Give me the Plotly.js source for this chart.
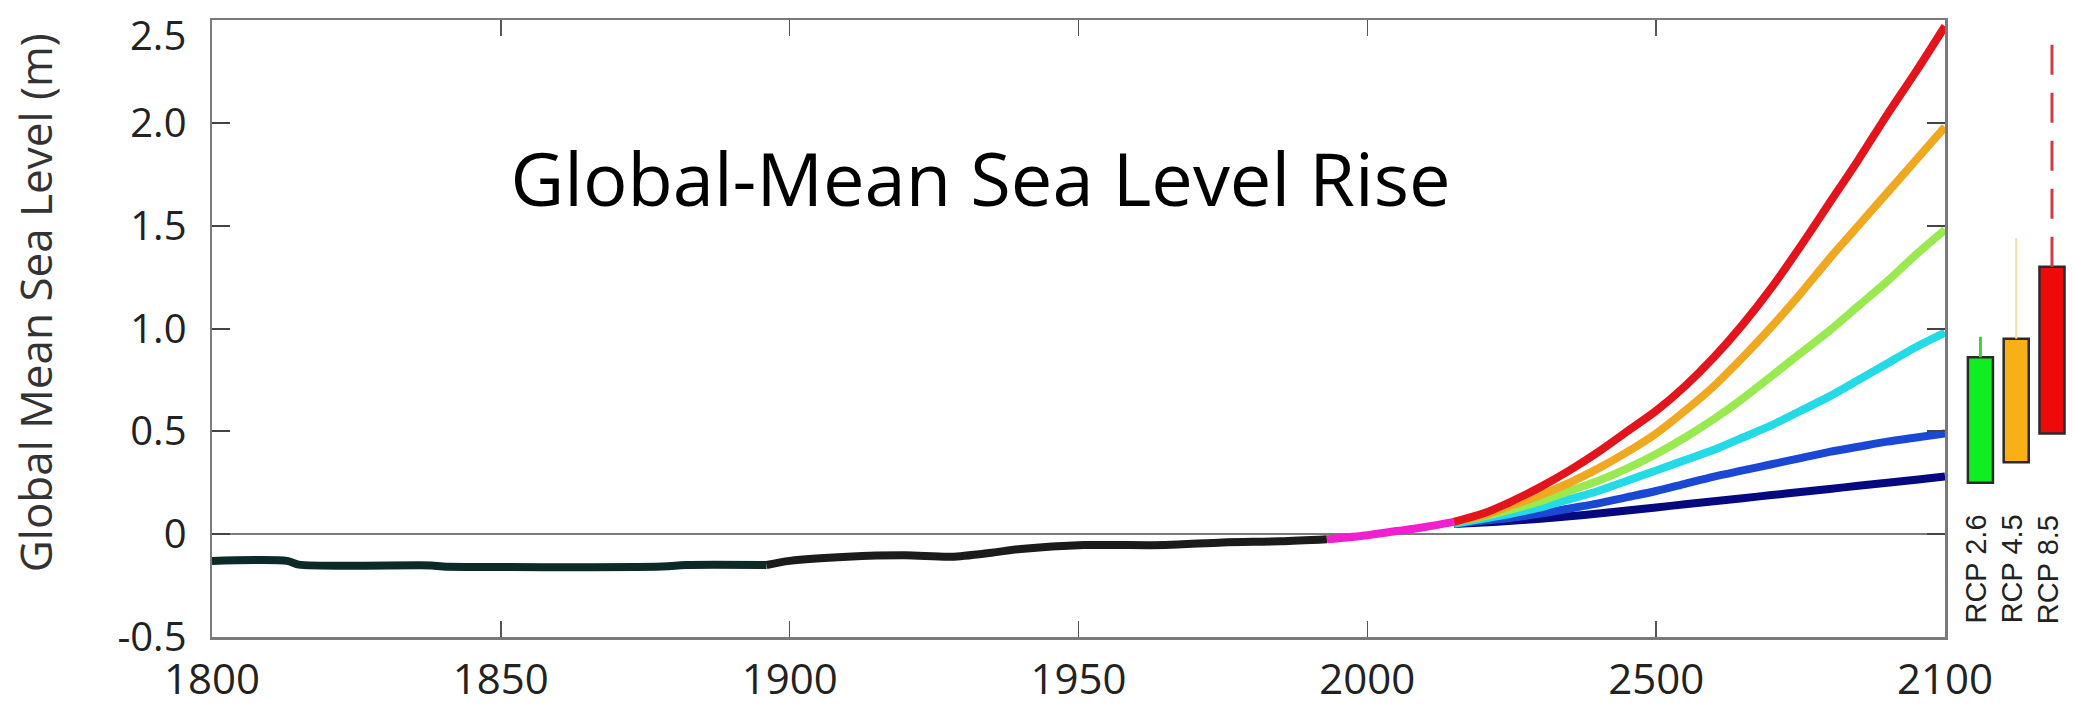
<!DOCTYPE html>
<html>
<head>
<meta charset="utf-8">
<script src="https://cdn.plot.ly/plotly-3.0.1.min.js"></script>
<style>html,body{margin:0;padding:0;background:#fff;}#chart{width:2073px;height:707px;}</style>
</head>
<body>
<div id="chart"></div>
<script>
// ---- data ----
const histEarlyYears = [1800, 1813, 1815, 1838, 1840, 1878, 1882, 1896];
const histEarlyLevel = [-0.13, -0.13, -0.148, -0.152, -0.157, -0.157, -0.15, -0.15];
const histLateYears = [1896, 1900, 1910, 1920, 1928, 1935, 1940, 1951, 1965, 1975, 1985, 1993];
const histLateLevel = [-0.15, -0.13, -0.11, -0.103, -0.11, -0.09, -0.072, -0.053, -0.053, -0.04, -0.035, -0.025];
const satYears = [1993, 2000, 2005, 2010, 2015];
const satLevel = [-0.025, -0.005, 0.015, 0.035, 0.06];

const projYears = [2015, 2020, 2025, 2030, 2035, 2040, 2045, 2050, 2055, 2060, 2065, 2070, 2075, 2080, 2085, 2090, 2095, 2100];
const projNavy   = [0.05, 0.057, 0.065, 0.075, 0.087, 0.10, 0.115, 0.13, 0.145, 0.16, 0.175, 0.19, 0.205, 0.22, 0.235, 0.25, 0.265, 0.28];
const projBlue   = [0.05, 0.065, 0.08, 0.10, 0.125, 0.15, 0.18, 0.21, 0.245, 0.28, 0.31, 0.34, 0.37, 0.40, 0.425, 0.45, 0.47, 0.49];
const projCyan   = [0.05, 0.075, 0.10, 0.13, 0.17, 0.21, 0.26, 0.31, 0.36, 0.41, 0.47, 0.53, 0.60, 0.67, 0.75, 0.83, 0.91, 0.98];
const projGreen  = [0.06, 0.085, 0.12, 0.16, 0.21, 0.26, 0.32, 0.39, 0.47, 0.56, 0.66, 0.77, 0.88, 0.99, 1.11, 1.23, 1.36, 1.48];
const projOrange = [0.06, 0.09, 0.14, 0.19, 0.25, 0.32, 0.40, 0.49, 0.60, 0.72, 0.86, 1.01, 1.17, 1.34, 1.50, 1.66, 1.82, 1.98];
const projRed    = [0.06, 0.10, 0.16, 0.23, 0.31, 0.40, 0.50, 0.60, 0.72, 0.86, 1.02, 1.20, 1.40, 1.61, 1.82, 2.04, 2.25, 2.47];

const rcpLabels = ["RCP 2.6", "RCP 4.5", "RCP 8.5"];
const rcpPos    = [1, 2, 3];
const rcpLow    = [0.25, 0.35, 0.49];
const rcpHigh   = [0.86, 0.95, 1.30];
const rcpTop    = [0.96, 1.44, 2.39];

const xTickVals = [1800, 1850, 1900, 1950, 2000, 2050, 2100];
const xTickText = ["1800", "1850", "1900", "1950", "2000", "2500", "2100"];
const yTickVals = [-0.5, 0, 0.5, 1.0, 1.5, 2.0, 2.5];
const yTickText = ["-0.5", "0", "0.5", "1.0", "1.5", "2.0", "2.5"];

const yAxisTitle = "Global Mean Sea Level (m)";
const chartTitle = "Global-Mean Sea Level Rise";

// ---- traces ----
const LW = 8;
function line(x, y, color, w) {
  return {x: x, y: y, type: 'scatter', mode: 'lines',
          line: {color: color, width: w || LW, shape: 'spline', smoothing: 0.8},
          xaxis: 'x', yaxis: 'y', hoverinfo: 'skip'};
}
const traces = [
  line(histEarlyYears, histEarlyLevel, '#0c2a26'),
  line(histLateYears, histLateLevel, '#1b1b1b'),
  line(projYears, projNavy, '#05087e'),
  line(projYears, projBlue, '#1a48d4'),
  line(projYears, projCyan, '#22dbe6'),
  line(projYears, projGreen, '#98ea50'),
  line(projYears, projOrange, '#f0a820'),
  line(projYears, projRed, '#e3141c'),
  line(satYears, satLevel, '#f21fd0')
];

const whiskerColors = ['#3fcf3f', '#f4dcae', '#d23a4a'];
const whiskerWidths = [3, 2, 3];
const whiskerDash = ['solid', 'solid', '30px,18px'];
for (let i = 0; i < rcpPos.length; i++) {
  traces.push({x: [rcpPos[i], rcpPos[i]], y: [rcpHigh[i], rcpTop[i]], type: 'scatter', mode: 'lines',
    line: {color: whiskerColors[i], width: whiskerWidths[i], dash: whiskerDash[i]},
    xaxis: 'x2', yaxis: 'y2', hoverinfo: 'skip'});
}
traces.push({
  x: rcpPos, y: rcpHigh.map((h, i) => h - rcpLow[i]), base: rcpLow, type: 'bar', width: 0.7,
  marker: {color: ['#10ee22', '#f8b014', '#ee0a0a'], line: {color: '#2a2a2a', width: 2.5}},
  xaxis: 'x2', yaxis: 'y2', hoverinfo: 'skip'
});

const FONT = 'Open Sans, Liberation Sans, sans-serif';
const TICKFONT = {family: FONT, size: 40, color: '#222'};
const topIdx = yTickVals.length - 1;
// the top tick label sits a little lower than its tick (as in the reference), so it is drawn as an annotation
const yTickTextShown = yTickText.map((t, i) => i === topIdx ? '' : t);

const annotations = rcpLabels.map((t, i) => ({
  text: t, x: rcpPos[i], y: -0.17, xref: 'x2', yref: 'y2', textangle: -90,
  xanchor: 'center', yanchor: 'middle', showarrow: false, xshift: -4,
  font: {family: 'Liberation Sans, Arial, sans-serif', size: 29, color: '#222'}
}));
annotations.push({
  text: yAxisTitle, xref: 'paper', yref: 'paper', x: -0.0951, y: 0.541,
  xanchor: 'center', yanchor: 'middle', textangle: -90, showarrow: false,
  font: {family: FONT, size: 44, color: '#333'}
});
annotations.push({
  text: yTickText[topIdx], xref: 'paper', yref: 'y', x: 0, y: yTickVals[topIdx],
  xanchor: 'right', yanchor: 'middle', xshift: -24, yshift: -14, showarrow: false,
  font: TICKFONT
});

const layout = {
  width: 2073, height: 707,
  margin: {l: 212, r: 0, t: 20, b: 70},
  paper_bgcolor: '#fff', plot_bgcolor: '#fff',
  showlegend: false, hovermode: false,
  title: {text: chartTitle, x: 0.473, xanchor: 'center', y: 0.745, yanchor: 'middle',
          font: {family: FONT, size: 74, color: '#000'}},
  xaxis: {domain: [0, 0.93122], range: [1800, 2100], tickvals: xTickVals, ticktext: xTickText,
          showgrid: false, zeroline: false, showline: true, linecolor: '#7a7a7a', linewidth: 2.5,
          mirror: 'ticks', ticks: 'inside', ticklen: 16, tickwidth: 1.5, tickcolor: '#555',
          ticklabelstandoff: 4, ticklabeloverflow: 'allow',
          tickfont: {family: FONT, size: 42, color: '#222'}},
  yaxis: {range: [-0.5, 2.5], tickvals: yTickVals, ticktext: yTickTextShown,
          showgrid: false, zeroline: true, zerolinecolor: '#7a7a7a', zerolinewidth: 2,
          showline: true, linecolor: '#7a7a7a', linewidth: 2.5,
          mirror: 'ticks', ticks: 'inside', ticklen: 18, tickwidth: 2, tickcolor: '#444',
          ticklabelstandoff: 15, ticklabeloverflow: 'allow',
          tickfont: TICKFONT},
  xaxis2: {domain: [0.936, 1], range: [0.259, 3.587], visible: false, anchor: 'y2'},
  yaxis2: {range: [-0.5, 2.5], visible: false, anchor: 'x2'},
  annotations: annotations
};

Plotly.newPlot('chart', traces, layout, {displayModeBar: false, staticPlot: true});
</script>
</body>
</html>
